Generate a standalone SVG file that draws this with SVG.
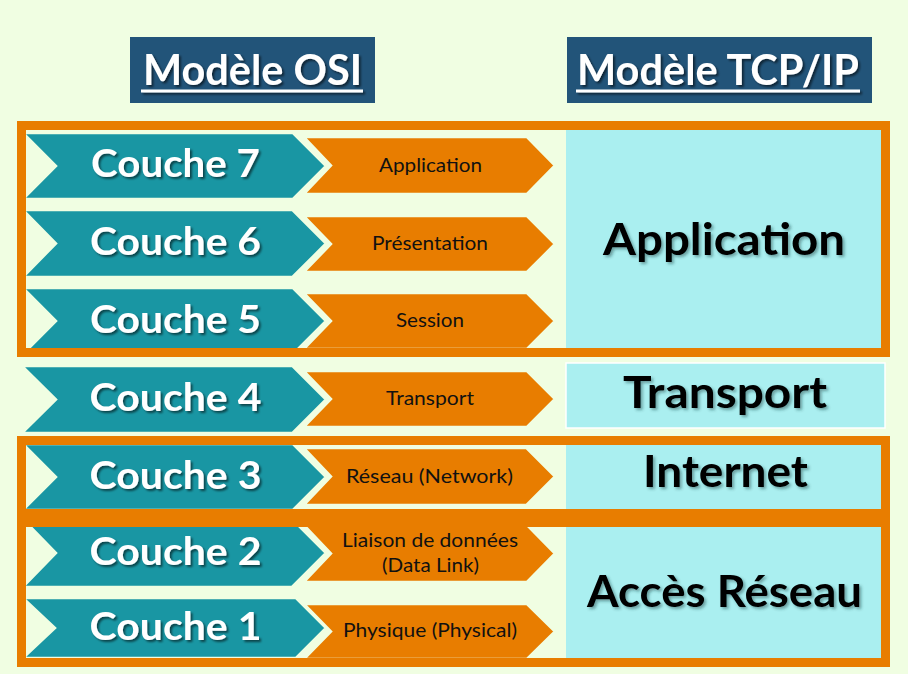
<svg xmlns="http://www.w3.org/2000/svg" width="908" height="674" viewBox="0 0 908 674">
<defs>
<filter id="sh" x="-10%" y="-30%" width="130%" height="160%">
<feDropShadow dx="2" dy="2" stdDeviation="1.2" flood-color="#000" flood-opacity="0.55"/>
</filter>
<filter id="shb" x="-10%" y="-30%" width="130%" height="160%">
<feDropShadow dx="2" dy="2" stdDeviation="1.5" flood-color="#1a3a3a" flood-opacity="0.45"/>
</filter>
</defs>
<style>
.title-bg{fill:#225479}
.title{font-family:Lato,"Open Sans",sans-serif;font-weight:bold;font-size:42px;fill:#fff;text-anchor:middle}
.teal{fill:#1996A3;stroke:#F0FEE2;stroke-width:2.5;stroke-linejoin:miter}
.orange{fill:#E87D00;stroke:#F0FEE2;stroke-width:2.5;stroke-linejoin:miter}
.cyan{fill:#AAEFF0}
.frame{fill:none;stroke:#E87D00;stroke-width:9}
.couche{font-family:Lato,"Open Sans",sans-serif;font-weight:bold;font-size:39px;fill:#fff;text-anchor:middle}
.lab{font-family:Lato,"Open Sans",sans-serif;font-size:20px;fill:#111;text-anchor:middle}
.tcp{font-family:Lato,"Open Sans",sans-serif;font-weight:bold;font-size:44px;fill:#000;text-anchor:middle}
</style>
<rect x="0" y="0" width="908" height="674" fill="#F0FEE2"/>

<g id="title-osi">
<rect class="title-bg" x="130" y="37" width="245" height="66"/>
<g filter="url(#sh)">
<text class="title" x="252.5" y="85" textLength="219" lengthAdjust="spacingAndGlyphs">Modèle OSI</text>
<rect x="141" y="89.5" width="222" height="3" fill="#fff"/>
</g>
</g>
<g id="title-tcp">
<rect class="title-bg" x="567" y="37" width="305" height="66"/>
<g filter="url(#sh)">
<text class="title" x="718" y="85" textLength="282" lengthAdjust="spacingAndGlyphs">Modèle TCP/IP</text>
<rect x="576" y="89.5" width="284" height="3" fill="#fff"/>
</g>
</g>

<g id="tcp-application">
<rect class="cyan" x="566" y="130" width="315" height="218"/>
<text class="tcp" x="724" y="255" textLength="242" lengthAdjust="spacingAndGlyphs" filter="url(#shb)">Application</text>
</g>
<g id="tcp-transport">
<rect class="cyan" x="566" y="363" width="319" height="65" stroke="#fff" stroke-width="1.5"/>
<text class="tcp" x="725" y="408" textLength="204" lengthAdjust="spacingAndGlyphs" filter="url(#shb)">Transport</text>
</g>
<g id="tcp-internet">
<rect class="cyan" x="566" y="445" width="315" height="64"/>
<text class="tcp" x="725.5" y="487" textLength="165" lengthAdjust="spacingAndGlyphs" filter="url(#shb)">Internet</text>
</g>
<g id="tcp-acces">
<rect class="cyan" x="566" y="527" width="315" height="132"/>
<text class="tcp" x="724.5" y="607" textLength="275" lengthAdjust="spacingAndGlyphs" filter="url(#shb)">Accès Réseau</text>
</g>

<g id="couche7">
<polygon class="teal" points="23,133 293,133 326,166 293,199 23,199 56,166"/>
<polygon class="orange" points="304,137 527,137 555,165.5 527,194 304,194 331,165.5"/>
<text class="couche" x="175.5" y="177" textLength="169" lengthAdjust="spacingAndGlyphs" filter="url(#sh)">Couche 7</text>
<text class="lab" x="430.5" y="172" textLength="103" lengthAdjust="spacingAndGlyphs">Application</text>
</g>
<g id="couche6">
<polygon class="teal" points="23,210 292.5,210 326,243.5 292.5,277 23,277 56,243.5"/>
<polygon class="orange" points="304,216 527,216 555,244 527,272 304,272 331,244"/>
<text class="couche" x="175.5" y="255" textLength="171" lengthAdjust="spacingAndGlyphs" filter="url(#sh)">Couche 6</text>
<text class="lab" x="430" y="250" textLength="116" lengthAdjust="spacingAndGlyphs">Présentation</text>
</g>
<g id="couche5">
<polygon class="teal" points="23,288 293,288 326,321 293,354 23,354 56,321"/>
<polygon class="orange" points="304,293 527,293 555,321 527,349 304,349 331,321"/>
<text class="couche" x="175.5" y="332.5" textLength="171" lengthAdjust="spacingAndGlyphs" filter="url(#sh)">Couche 5</text>
<text class="lab" x="430" y="327" textLength="68" lengthAdjust="spacingAndGlyphs">Session</text>
</g>
<g id="couche4">
<polygon class="teal" points="22,366 292.5,366 326,399.5 292.5,433 22,433 56,399.5"/>
<polygon class="orange" points="304,371 527,371 555,399 527,427 304,427 331,399"/>
<text class="couche" x="175.5" y="411" textLength="172" lengthAdjust="spacingAndGlyphs" filter="url(#sh)">Couche 4</text>
<text class="lab" x="430" y="405" textLength="88" lengthAdjust="spacingAndGlyphs">Transport</text>
</g>
<g id="couche3">
<polygon class="teal" points="23,444 293,444 326,477 293,510 23,510 56,477"/>
<polygon class="orange" points="304,448 526.5,448 555,476.5 526.5,505 304,505 331,476.5"/>
<text class="couche" x="175.5" y="488.5" textLength="172" lengthAdjust="spacingAndGlyphs" filter="url(#sh)">Couche 3</text>
<text class="lab" x="429.5" y="483" textLength="167" lengthAdjust="spacingAndGlyphs">Réseau (Network)</text>
</g>
<g id="couche2">
<polygon class="teal" points="23,519 292,519 326,553 292,587 23,587 56,553"/>
<polygon class="orange" points="304,525 527,525 555,553.5 527,582 304,582 331,553.5"/>
<text class="couche" x="175.5" y="565" textLength="172" lengthAdjust="spacingAndGlyphs" filter="url(#sh)">Couche 2</text>
<text class="lab" x="430" y="547" textLength="176" lengthAdjust="spacingAndGlyphs">Liaison de données</text>
<text class="lab" x="430.5" y="572" textLength="97" lengthAdjust="spacingAndGlyphs">(Data Link)</text>
</g>
<g id="couche1">
<polygon class="teal" points="23,598 296,598 326,628 296,658 23,658 55,628"/>
<polygon class="orange" points="304,604 527,604 555,631.5 527,659 304,659 331,631.5"/>
<text class="couche" x="175.5" y="640" textLength="172" lengthAdjust="spacingAndGlyphs" filter="url(#sh)">Couche 1</text>
<text class="lab" x="430" y="637" textLength="174" lengthAdjust="spacingAndGlyphs">Physique (Physical)</text>
</g>

<g id="frames">
<rect class="frame" x="21.5" y="125.5" width="864" height="227"/>
<rect class="frame" x="21.5" y="440.5" width="864" height="73"/>
<rect class="frame" x="21.5" y="522.5" width="864" height="140"/>
</g>
</svg>
